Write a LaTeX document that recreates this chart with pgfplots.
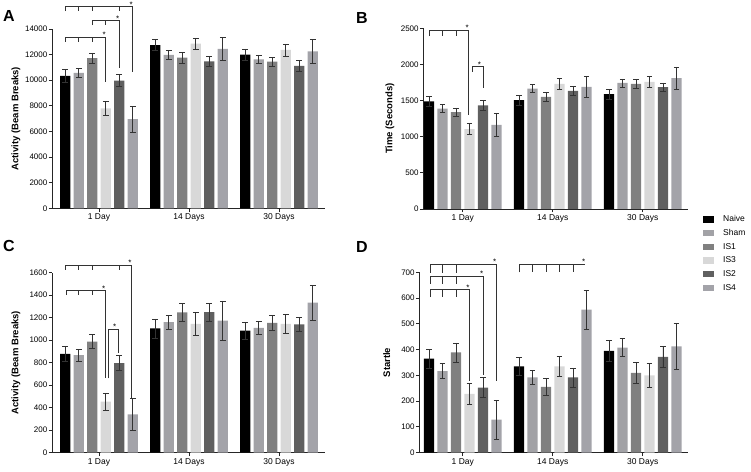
\documentclass[border=0pt]{standalone}
\usepackage{fontspec}
\setmainfont{Liberation Sans}
\usepackage{pgfplots}
\pgfplotsset{compat=1.18}
\definecolor{cnaive}{RGB}{0,0,0}
\definecolor{csham}{RGB}{162,162,166}
\definecolor{cisone}{RGB}{128,128,128}
\definecolor{cisthree}{RGB}{216,216,216}
\definecolor{cistwo}{RGB}{96,96,96}
\definecolor{cisfour}{RGB}{163,163,169}
\pgfplotsset{
  panel/.style={
    scale only axis, anchor=south west, axis lines=left,
    axis line style={-, line width=0.9pt, black!85},
    clip=false, xtick={0,1,2}, xticklabels={1 Day,14 Days,30 Days},
    tick align=outside, major tick length=3.5pt,
    tick style={line width=0.9pt, black!85},
    ymin=0, scaled y ticks=false,
    yticklabel style={font=\fontsize{8}{9}\selectfont, inner sep=1pt},
    xticklabel style={font=\fontsize{8.5}{10}\selectfont, inner sep=2pt},
    /pgf/number format/1000 sep={}, /pgf/number format/assume math mode=true,
    ylabel style={font=\bfseries\fontsize{9.5}{11}\selectfont, anchor=center},
  },
  bars/.style={ybar, bar width=0.114, bar shift=0pt, draw=none, fill=#1,
    error bars/y dir=both, error bars/y explicit,
    error bars/error bar style={line width=0.6pt, black!80},
    error bars/error mark options={rotate=90, mark size=2.8pt, line width=0.6pt, black!80}},
}
\tikzset{br/.style={line width=0.8pt, black!80},
  star/.style={font=\fontsize{8}{8}\selectfont, anchor=base, inner sep=0pt, xshift=-1.5pt, yshift=-0.5pt}}
\begin{document}
\begin{tikzpicture}
\useasboundingbox (0pt,0pt) rectangle (751pt,471pt);
% Panel letters
\node[font=\bfseries\fontsize{16}{16}\selectfont] at (9pt,455pt) {A};
\node[font=\bfseries\fontsize{16}{16}\selectfont] at (362pt,453pt) {B};
\node[font=\bfseries\fontsize{16}{16}\selectfont] at (9pt,225pt) {C};
\node[font=\bfseries\fontsize{16}{16}\selectfont] at (362pt,224pt) {D};

% ---------------- A ----------------
\begin{axis}[panel, at={(52pt,262.7pt)}, width=273pt, height=179.3pt,
  xmin=-0.522, xmax=2.511, ymax=14000, ytick={0,2000,...,14000},
  ylabel={Activity (Beam Breaks)},
  ylabel style={at={(axis description cs:-0.132,0.5)}}]
\addplot[bars=cnaive] coordinates {(-0.375,10340) +- (0,500) (0.625,12750) +- (0,430) (1.625,11990) +- (0,450)};
\addplot[bars=csham] coordinates {(-0.225,10570) +- (0,350) (0.775,11970) +- (0,330) (1.775,11630) +- (0,340)};
\addplot[bars=cisone] coordinates {(-0.075,11730) +- (0,400) (0.925,11760) +- (0,400) (1.925,11450) +- (0,350)};
\addplot[bars=cisthree] coordinates {(0.075,7800) +- (0,540) (1.075,12850) +- (0,450) (2.075,12360) +- (0,470)};
\addplot[bars=cistwo] coordinates {(0.225,9970) +- (0,470) (1.225,11470) +- (0,400) (2.225,11130) +- (0,400)};
\addplot[bars=cisfour] coordinates {(0.375,6970) +- (0,1000) (1.375,12440) +- (0,900) (2.375,12260) +- (0,930)};
% brackets
\draw[br] (axis cs:-0.375,13000) |- (axis cs:0.075,13350) -- (axis cs:0.075,9890);
\draw[br] (axis cs:-0.225,13350) -- (axis cs:-0.225,13000);
\draw[br] (axis cs:-0.075,13350) -- (axis cs:-0.075,13000);
\node[star] at (axis cs:0.075,13350) {*};
\draw[br] (axis cs:-0.075,14300) |- (axis cs:0.225,14650) -- (axis cs:0.225,10950);
\draw[br] (axis cs:0.075,14650) -- (axis cs:0.075,14300);
\node[star] at (axis cs:0.225,14650) {*};
\draw[br] (axis cs:-0.375,15390) |- (axis cs:0.375,15740) -- (axis cs:0.375,10670);
\draw[br] (axis cs:-0.225,15740) -- (axis cs:-0.225,15390);
\draw[br] (axis cs:-0.075,15740) -- (axis cs:-0.075,15390);
\draw[br] (axis cs:0.225,15740) -- (axis cs:0.225,15390);
\node[star] at (axis cs:0.375,15740) {*};
\end{axis}

% ---------------- B ----------------
\begin{axis}[panel, at={(423.3pt,262pt)}, width=264.7pt, height=180.7pt,
  xmin=-0.439, xmax=2.502, ymax=2500, ytick={0,500,...,2500},
  ylabel={Time (Seconds)},
  ylabel style={at={(axis description cs:-0.126,0.5)}},
  legend style={at={(axis description cs:1.057,-0.030)}, anchor=north west,
    draw=none, fill=none, inner sep=0pt, font=\fontsize{8.5}{9}\selectfont,
    nodes={text height=6pt, text depth=1pt, inner sep=1pt},
    row sep=4.7pt, /tikz/every odd column/.append style={column sep=9pt}},
  legend cell align=left]
\addplot[bars=cnaive, forget plot] coordinates {(-0.375,1490) +- (0,70) (0.625,1505) +- (0,70) (1.625,1590) +- (0,70)};
\addplot[bars=csham, forget plot] coordinates {(-0.225,1390) +- (0,58) (0.775,1665) +- (0,55) (1.775,1745) +- (0,55)};
\addplot[bars=cisone, forget plot] coordinates {(-0.075,1340) +- (0,60) (0.925,1550) +- (0,60) (1.925,1730) +- (0,60)};
\addplot[bars=cisthree, forget plot] coordinates {(0.075,1105) +- (0,75) (1.075,1730) +- (0,80) (2.075,1760) +- (0,80)};
\addplot[bars=cistwo, forget plot] coordinates {(0.225,1432) +- (0,65) (1.225,1635) +- (0,65) (2.225,1685) +- (0,60)};
\addplot[bars=cisfour, forget plot] coordinates {(0.375,1165) +- (0,155) (1.375,1690) +- (0,150) (2.375,1810) +- (0,155)};
\addlegendimage{legend image code/.code={\fill[cnaive] (0pt,-2.7pt) rectangle (9.5pt,2.7pt);}}
\addlegendentry{Naive}
\addlegendimage{legend image code/.code={\fill[csham] (0pt,-2.7pt) rectangle (9.5pt,2.7pt);}}
\addlegendentry{Sham}
\addlegendimage{legend image code/.code={\fill[cisone] (0pt,-2.7pt) rectangle (9.5pt,2.7pt);}}
\addlegendentry{IS1}
\addlegendimage{legend image code/.code={\fill[cisthree] (0pt,-2.7pt) rectangle (9.5pt,2.7pt);}}
\addlegendentry{IS3}
\addlegendimage{legend image code/.code={\fill[cistwo] (0pt,-2.7pt) rectangle (9.5pt,2.7pt);}}
\addlegendentry{IS2}
\addlegendimage{legend image code/.code={\fill[cisfour] (0pt,-2.7pt) rectangle (9.5pt,2.7pt);}}
\addlegendentry{IS4}
% brackets
\draw[br] (axis cs:-0.375,2390) |- (axis cs:0.065,2476) -- (axis cs:0.065,1300);
\draw[br] (axis cs:-0.225,2476) -- (axis cs:-0.225,2390);
\draw[br] (axis cs:-0.075,2476) -- (axis cs:-0.075,2390);
\node[star] at (axis cs:0.065,2476) {*};
\draw[br] (axis cs:0.11,1900) |- (axis cs:0.225,1969) -- (axis cs:0.225,1670);
\node[star] at (axis cs:0.2,1969) {*};
\end{axis}

% ---------------- C ----------------
\begin{axis}[panel, at={(52pt,18.3pt)}, width=273pt, height=180pt,
  xmin=-0.522, xmax=2.511, ymax=1600, ytick={0,200,...,1600},
  ylabel={Activity (Beam Breaks)},
  ylabel style={at={(axis description cs:-0.132,0.5)}}]
\addplot[bars=cnaive] coordinates {(-0.375,878) +- (0,65) (0.625,1105) +- (0,85) (1.625,1085) +- (0,75)};
\addplot[bars=csham] coordinates {(-0.225,868) +- (0,53) (0.775,1160) +- (0,60) (1.775,1110) +- (0,60)};
\addplot[bars=cisone] coordinates {(-0.075,988) +- (0,62) (0.925,1248) +- (0,78) (1.925,1155) +- (0,65)};
\addplot[bars=cisthree] coordinates {(0.075,455) +- (0,75) (1.075,1145) +- (0,100) (2.075,1145) +- (0,85)};
\addplot[bars=cistwo] coordinates {(0.225,797) +- (0,65) (1.225,1250) +- (0,78) (2.225,1140) +- (0,62)};
\addplot[bars=cisfour] coordinates {(0.375,340) +- (0,145) (1.375,1175) +- (0,175) (2.375,1335) +- (0,155)};
% brackets
\draw[br] (axis cs:-0.375,1624) |- (axis cs:0.36,1668) -- (axis cs:0.36,490);
\draw[br] (axis cs:-0.225,1668) -- (axis cs:-0.225,1624);
\draw[br] (axis cs:-0.075,1668) -- (axis cs:-0.075,1624);
\draw[br] (axis cs:0.225,1668) -- (axis cs:0.225,1624);
\node[star] at (axis cs:0.36,1668) {*};
\draw[br] (axis cs:-0.36,1400) |- (axis cs:0.07,1440) -- (axis cs:0.07,661);
\draw[br] (axis cs:-0.225,1440) -- (axis cs:-0.225,1400);
\draw[br] (axis cs:-0.075,1440) -- (axis cs:-0.075,1400);
\node[star] at (axis cs:0.07,1440) {*};
\draw[br] (axis cs:0.108,661) |- (axis cs:0.22,1097) -- (axis cs:0.22,886);
\node[star] at (axis cs:0.19,1097) {*};
\end{axis}

% ---------------- D ----------------
\begin{axis}[panel, at={(419.3pt,18.3pt)}, width=268.7pt, height=180.4pt,
  xmin=-0.483, xmax=2.503, ymax=700, ytick={0,100,...,700},
  ylabel={Startle},
  ylabel style={at={(axis description cs:-0.121,0.5)}}]
\addplot[bars=cnaive] coordinates {(-0.375,365) +- (0,37) (0.625,335) +- (0,35) (1.625,395) +- (0,40)};
\addplot[bars=csham] coordinates {(-0.225,317) +- (0,30) (0.775,292) +- (0,28) (1.775,408) +- (0,35)};
\addplot[bars=cisone] coordinates {(-0.075,389) +- (0,37) (0.925,255) +- (0,33) (1.925,310) +- (0,40)};
\addplot[bars=cisthree] coordinates {(0.075,228) +- (0,42) (1.075,335) +- (0,40) (2.075,300) +- (0,48)};
\addplot[bars=cistwo] coordinates {(0.225,253) +- (0,38) (1.225,292) +- (0,37) (2.225,372) +- (0,42)};
\addplot[bars=cisfour] coordinates {(0.375,128) +- (0,76) (1.375,555) +- (0,75) (2.375,413) +- (0,88)};
% brackets
\draw[br] (axis cs:-0.36,699) |- (axis cs:0.37,731) -- (axis cs:0.37,280);
\draw[br] (axis cs:-0.225,731) -- (axis cs:-0.225,699);
\draw[br] (axis cs:-0.075,731) -- (axis cs:-0.075,699);
\node[star] at (axis cs:0.37,731) {*};
\draw[br] (axis cs:-0.36,656) |- (axis cs:0.228,686) -- (axis cs:0.228,300);
\draw[br] (axis cs:-0.225,686) -- (axis cs:-0.225,656);
\draw[br] (axis cs:-0.075,686) -- (axis cs:-0.075,656);
\node[star] at (axis cs:0.228,686) {*};
\draw[br] (axis cs:-0.36,604) |- (axis cs:0.073,632) -- (axis cs:0.073,280);
\draw[br] (axis cs:-0.225,632) -- (axis cs:-0.225,604);
\draw[br] (axis cs:-0.075,632) -- (axis cs:-0.075,604);
\node[star] at (axis cs:0.073,632) {*};
\draw[br] (axis cs:0.625,700) |- (axis cs:1.36,731);
\draw[br] (axis cs:0.775,731) -- (axis cs:0.775,700);
\draw[br] (axis cs:0.925,731) -- (axis cs:0.925,700);
\draw[br] (axis cs:1.075,731) -- (axis cs:1.075,700);
\draw[br] (axis cs:1.225,731) -- (axis cs:1.225,700);
\node[star] at (axis cs:1.36,731) {*};
\end{axis}
\end{tikzpicture}
\end{document}
